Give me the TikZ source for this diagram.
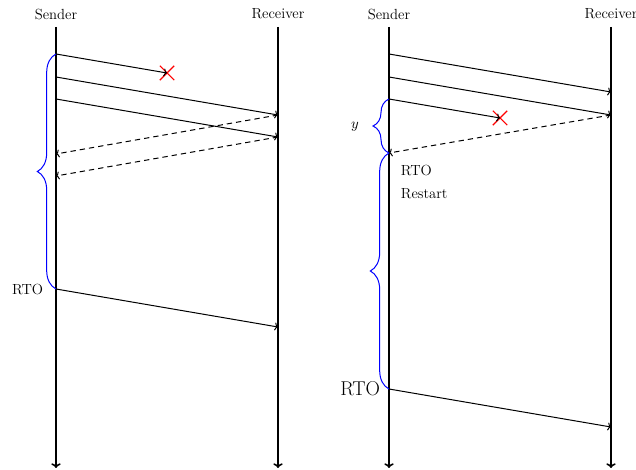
\documentclass[tikz,border=0pt]{standalone}
\usetikzlibrary{decorations.pathreplacing,shapes.misc,arrows.meta}

\tikzset{every picture/.style={line width=0.75pt}}
\tikzset{
  every node/.style={font=\fontsize{11}{13}\selectfont},
  lifeline/.style={line width=1.2pt,-{To[length=3.5pt,width=7pt]}},
  msg/.style={-{To[length=2.5pt,width=6pt]}},
  ack/.style={msg,dash pattern=on 4pt off 3pt},
  lost/.style={cross out,draw=red,line width=0.8pt,minimum size=10pt,inner sep=0pt},
  rtobrace/.style={blue,decorate,decoration={brace,amplitude=#1}},
}

\begin{document}
\begin{tikzpicture}[x=0.75pt,y=0.75pt,yscale=-1,xscale=1]
		\useasboundingbox (0,0) rectangle (636,470);
		
		%Left: plain timeout
		\node (sndA) at (56,14) {Sender};
		\node (rcvA) at (278,14) {Receiver};
		\coordinate (sndAtop) at (56,27);
		\coordinate (sndAbot) at (56,468);
		\coordinate (rcvAtop) at (278,27);
		\coordinate (rcvAbot) at (278,468);
		\draw [lifeline] (sndAtop) -- (sndAbot);
		\draw [lifeline] (rcvAtop) -- (rcvAbot);
		
		\coordinate (a1) at (56,54);
		\coordinate (a2) at (56,77);
		\coordinate (a3) at (56,99);
		\coordinate (a4) at (56,154);
		\coordinate (a5) at (56,176);
		\coordinate (a6) at (56,289);
		\coordinate (b2) at (278,115);
		\coordinate (b3) at (278,137);
		\coordinate (b6) at (278,327);
		\node [lost] (lostA) at (167,73) {};
		
		\draw [msg] (a1) -- (lostA.center);
		\draw [msg] (a2) -- (b2);
		\draw [msg] (a3) -- (b3);
		\draw [ack] (b2) -- (a4);
		\draw [ack] (b3) -- (a5);
		\draw [msg] (a6) -- (b6);
		
		%Shape: Brace
		\draw [rtobrace=14pt] (a6) -- (a1);
		\node [anchor=east] (rtoA) at (48,289) {RTO};
		
		%Right: timer restarted on ack
		\node (sndB) at (389,14) {Sender};
		\node (rcvB) at (611,14) {Receiver};
		\coordinate (sndBtop) at (389,27);
		\coordinate (sndBbot) at (389,468);
		\coordinate (rcvBtop) at (611,27);
		\coordinate (rcvBbot) at (611,468);
		\draw [lifeline] (sndBtop) -- (sndBbot);
		\draw [lifeline] (rcvBtop) -- (rcvBbot);
		
		\coordinate (c1) at (389,54);
		\coordinate (c2) at (389,77);
		\coordinate (c3) at (389,99);
		\coordinate (c4) at (389,153);
		\coordinate (c6) at (389,389);
		\coordinate (d1) at (611,92);
		\coordinate (d2) at (611,115);
		\coordinate (d6) at (611,427);
		\node [lost] (lostB) at (500,118) {};
		
		\draw [msg] (c1) -- (d1);
		\draw [msg] (c2) -- (d2);
		\draw [msg] (c3) -- (lostB.center);
		\draw [ack] (d2) -- (c4);
		\draw [msg] (c6) -- (d6);
		
		%Shape: Brace
		\draw [rtobrace=12pt] (c4) -- (c3);
		\draw [rtobrace=14pt] (c6) -- (c4);
		\node (yB) at (355,127) {$y$};
		\node [anchor=west] (rtoB) at (396,170) {RTO};
		\node [anchor=west] (restartB) at (396,194) {Restart};
		\node [anchor=east,font=\fontsize{15}{17}\selectfont] (rtoBbig) at (385,389) {RTO};
		
	\end{tikzpicture}
\end{document}
